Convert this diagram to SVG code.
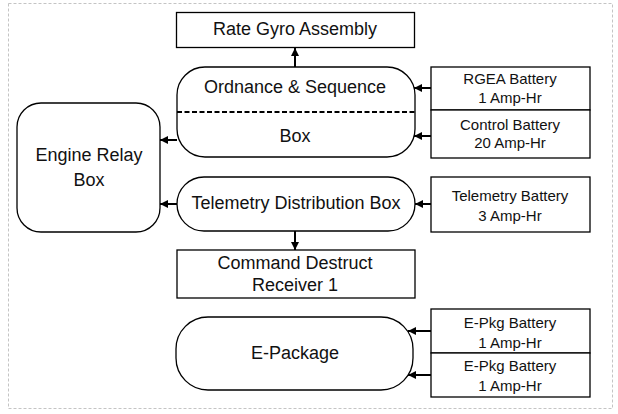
<svg xmlns="http://www.w3.org/2000/svg" width="618" height="414" viewBox="0 0 618 414">
<defs>
<marker id="ah" viewBox="0 0 10 10" refX="10" refY="5" markerWidth="8" markerHeight="8" markerUnits="userSpaceOnUse" orient="auto">
<path d="M0,0 L10,5 L0,10 z" fill="#000"/>
</marker>
<style>
.bx{fill:#fff;stroke:#000;stroke-width:1.3}
.t{font-family:"Liberation Sans",Arial,sans-serif;font-size:18px;text-anchor:middle;dominant-baseline:central;fill:#111}
.s{font-family:"Liberation Sans",Arial,sans-serif;font-size:15px;text-anchor:middle;dominant-baseline:central;fill:#111}
.c{stroke:#000;stroke-width:2;fill:none;marker-end:url(#ah)}
</style>
</defs>
<rect x="8.5" y="3.5" width="604" height="405" fill="#fff" stroke="#c4c4c4" stroke-width="1" stroke-dasharray="3 2"/>
<g id="rate-gyro">
<rect class="bx" x="176.5" y="12.5" width="238" height="35"/>
<text class="t" x="295" y="29">Rate Gyro Assembly</text>
</g>
<g id="ordnance">
<rect class="bx" x="177" y="67" width="238" height="90" rx="28" ry="28"/>
<line x1="177" y1="112" x2="415" y2="112" stroke="#000" stroke-width="2.2" stroke-dasharray="5 2.5"/>
<text class="t" x="295" y="87">Ordnance &amp; Sequence</text>
<text class="t" x="295" y="136">Box</text>
</g>
<g id="rgea-battery">
<rect class="bx" x="431" y="67" width="159" height="43"/>
<text class="s" x="510" y="78">RGEA Battery</text>
<text class="s" x="510" y="97">1 Amp-Hr</text>
</g>
<g id="control-battery">
<rect class="bx" x="431" y="110" width="159" height="48"/>
<text class="s" x="510" y="124">Control Battery</text>
<text class="s" x="510" y="142">20 Amp-Hr</text>
</g>
<g id="engine-relay">
<rect class="bx" x="17" y="103" width="143" height="129" rx="24" ry="24"/>
<text class="t" x="89" y="155" font-size="19">Engine Relay</text>
<text class="t" x="89" y="180" font-size="19">Box</text>
</g>
<g id="telemetry-dist">
<rect class="bx" x="177" y="177" width="238" height="54" rx="27" ry="27"/>
<text class="t" x="296" y="203" font-size="17">Telemetry Distribution Box</text>
</g>
<g id="telemetry-battery">
<rect class="bx" x="431" y="177" width="159" height="55"/>
<text class="s" x="510" y="195">Telemetry Battery</text>
<text class="s" x="510" y="215">3 Amp-Hr</text>
</g>
<g id="command-destruct">
<rect class="bx" x="177" y="250" width="238" height="48"/>
<text class="t" x="295" y="263">Command Destruct</text>
<text class="t" x="295" y="285">Receiver 1</text>
</g>
<g id="e-package">
<rect class="bx" x="176" y="317" width="237" height="73" rx="32" ry="32"/>
<text class="t" x="295" y="353" font-size="19">E-Package</text>
</g>
<g id="epkg-battery-1">
<rect class="bx" x="431" y="309" width="159" height="44"/>
<text class="s" x="510" y="322">E-Pkg Battery</text>
<text class="s" x="510" y="342">1 Amp-Hr</text>
</g>
<g id="epkg-battery-2">
<rect class="bx" x="431" y="353" width="159" height="44"/>
<text class="s" x="510" y="365">E-Pkg Battery</text>
<text class="s" x="510" y="385">1 Amp-Hr</text>
</g>
<g id="connectors">
<line class="c" x1="295" y1="67" x2="295" y2="48"/>
<line class="c" x1="431" y1="88" x2="414" y2="88"/>
<line class="c" x1="431" y1="136" x2="414" y2="136"/>
<line class="c" x1="177" y1="140" x2="160" y2="140"/>
<line class="c" x1="177" y1="204" x2="160" y2="204"/>
<line class="c" x1="431" y1="204" x2="415" y2="204"/>
<line class="c" x1="295" y1="231" x2="295" y2="250"/>
<line class="c" x1="431" y1="331" x2="408" y2="331"/>
<line class="c" x1="431" y1="375" x2="408" y2="375"/>
</g>
</svg>
